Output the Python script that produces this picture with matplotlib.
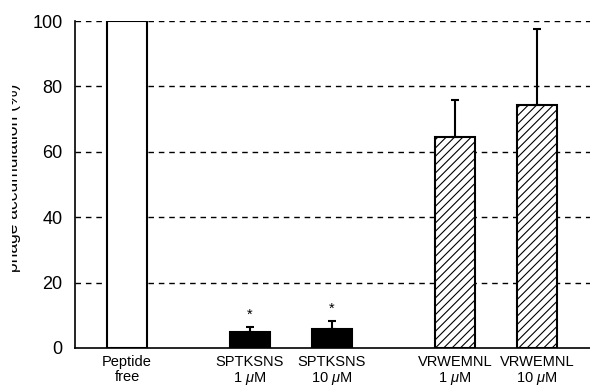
import matplotlib.pyplot as plt
from matplotlib.patches import Rectangle
import numpy as np

plt.rcParams['font.family'] = ['Liberation Sans', 'DejaVu Sans']
plt.rcParams['mathtext.fontset'] = 'custom'
plt.rcParams['mathtext.it'] = 'Liberation Sans:italic'
plt.rcParams['mathtext.rm'] = 'Liberation Sans'
plt.rcParams['hatch.linewidth'] = 0.8

labels = ['Peptide\nfree', 'SPTKSNS\n1 $\\mu$M', 'SPTKSNS\n10 $\\mu$M',
          'VRWEMNL\n1 $\\mu$M', 'VRWEMNL\n10 $\\mu$M']
xpos = [0, 1.5, 2.5, 4, 5]
values = [100, 4.8, 5.9, 64.5, 74.3]
errors = [0, 1.6, 2.4, 11.3, 23.2]
fills = ['white', 'black', 'black', 'white', 'white']
hatches = ['', '', '', '////', '////']
starred = [False, True, True, False, False]

fig = plt.figure(figsize=(5.9, 3.88), dpi=100)
ax = fig.add_axes([75 / 590, 40 / 388, 1 - 75 / 590, 327 / 388])

for y in [20, 40, 60, 80, 100]:
    ax.axhline(y, color='black', lw=1.0, ls=(0, (4, 3.5)), zorder=0)

for x, v, c, h in zip(xpos, values, fills, hatches):
    ax.bar(x, v, width=0.49, color=c, edgecolor='black', lw=1.5, hatch=h, zorder=2)

err_x = [x for x, e in zip(xpos, errors) if e > 0]
err_v = [v for v, e in zip(values, errors) if e > 0]
err_e = [e for e in errors if e > 0]
ax.errorbar(err_x, err_v, yerr=[np.zeros(len(err_e)), err_e], fmt='none',
            ecolor='black', elinewidth=1.5, capsize=3, capthick=1.5, zorder=3)

for x, v, e, s in zip(xpos, values, errors, starred):
    if s:
        ax.text(x, v + e + 1.5, '*', ha='center', va='bottom', fontsize=10.5)

ax.set_xlim(-0.634, 5.646)
ax.set_ylim(0, 100)
ax.set_yticks([0, 20, 40, 60, 80, 100])
ax.set_xticks(xpos)
ax.set_xticklabels(labels, fontsize=10.5, linespacing=1.1)
ax.tick_params(axis='x', length=0, pad=5)
ax.tick_params(axis='y', length=0, pad=9, labelsize=13)
ax.spines['top'].set_visible(False)
ax.spines['right'].set_visible(False)
ax.spines['left'].set_linewidth(1.2)
ax.spines['bottom'].set_linewidth(1.2)

# y label sits partly outside the visible page edge
fig.text(21 / 590, 1 - 178 / 388, 'phage accumulation (%)', rotation=90,
         ha='right', va='center', fontsize=12.5)
fig.add_artist(Rectangle((0, 0), 12 / 590, 1, transform=fig.transFigure,
                         facecolor='white', edgecolor='none', zorder=10))

fig.savefig('out.png', dpi=100)
